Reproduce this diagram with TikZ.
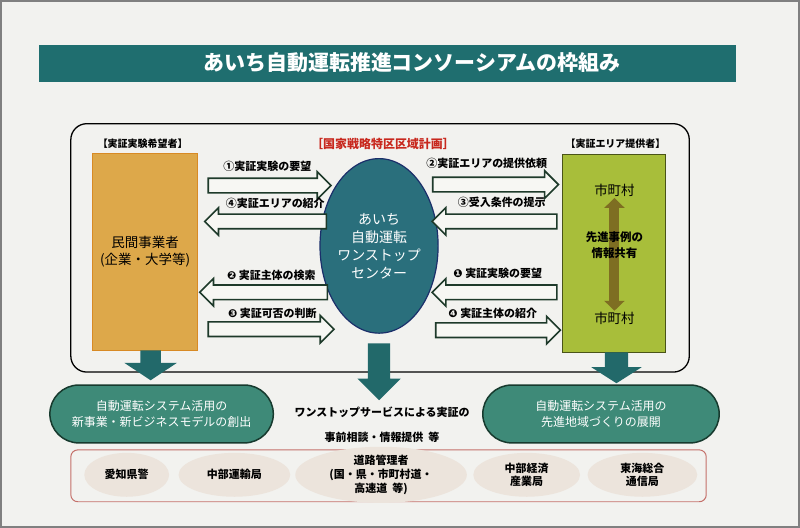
\documentclass[tikz,border=0pt]{standalone}
\usepackage{fontspec}
\setmainfont{Noto Sans CJK JP}
\newfontfamily\circfont{DejaVu Sans}
\usetikzlibrary{shapes.arrows,shapes.geometric,arrows.meta}

\definecolor{paper}{HTML}{F2F2EF}
\definecolor{bandteal}{HTML}{1F6E6F}
\definecolor{firmfill}{HTML}{DDA84A}
\definecolor{firmedge}{HTML}{D88A24}
\definecolor{cityfill}{HTML}{A8BE3A}
\definecolor{cityedge}{HTML}{4A5418}
\definecolor{hubfill}{HTML}{2A6F7C}
\definecolor{hubedge}{HTML}{1B2F6A}
\definecolor{arrowedge}{HTML}{1E3A2A}
\definecolor{arrowfill}{HTML}{F7F7F3}
\definecolor{dropteal}{HTML}{22696A}
\definecolor{goalfill}{HTML}{3E8A78}
\definecolor{goaledge}{HTML}{173A2E}
\definecolor{agencyedge}{HTML}{C4706A}
\definecolor{agencyfill}{HTML}{ECE4DC}
\definecolor{shareolive}{HTML}{7E6E22}
\definecolor{planred}{HTML}{C8281E}

\tikzset{
  fat/.style={single arrow, draw=arrowedge, fill=arrowfill, line width=1.6pt,
    inner sep=0pt, inner ysep=6.5pt, single arrow head extend=6.5pt,
    anchor=tail, minimum height=#1},
  fatleft/.style={fat=#1, shape border rotate=180},
  drop/.style={single arrow, fill=dropteal, inner sep=0pt, inner xsep=#1,
    shape border rotate=270, anchor=tail},
  tag/.style={font=\bfseries\fontsize{11}{13}\selectfont},
  heading/.style={font=\bfseries\fontsize{10}{12}\selectfont},
  goal/.style={draw=goaledge, fill=goalfill, line width=1.5pt, rounded corners=29pt,
    minimum height=58pt, text=white, align=center, font=\fontsize{12}{16}\selectfont},
  agency/.style={ellipse, fill=agencyfill, minimum height=44pt, inner sep=0pt,
    align=center, font=\bfseries\fontsize{11}{14}\selectfont}
}

\begin{document}
\begin{tikzpicture}[x=1pt,y=-1pt]
		% paper and scan border
		\fill[paper] (0,0) rectangle (800,527);
		\draw[gray, line width=2pt] (0,0) rectangle (800,527);

		% title band
		\node (banner) [fill=bandteal, minimum width=699pt, minimum height=37pt, inner sep=0pt] at (387.5,62.5) {};
		\node (bannertext) [text=white, font=\bfseries\fontsize{21}{24}\selectfont] at (412,62) {あいち自動運転推進コンソーシアムの枠組み};

		% big frame
		\draw[line width=1.3pt, rounded corners=16pt] (70,123) rectangle (690,372);

		% headings
		\node (seekers) [heading] at (142,143) {【実証実験希望者】};
		\node (plan) [planred, font=\bfseries\fontsize{12}{14}\selectfont] at (383,143) {［国家戦略特区区域計画］};
		\node (providers) [heading] at (616,143) {【実証エリア提供者】};

		% left box: companies
		\node (firms) [draw=firmedge, fill=firmfill, line width=1.2pt, minimum width=105pt, minimum height=197pt,
			align=center, font=\fontsize{13.5}{17}\selectfont] at (144.5,251.5) {民間事業者\\(企業・大学等)};

		% right box: municipalities
		\node (cities) [draw=cityedge, fill=cityfill, line width=1.2pt, minimum width=103pt, minimum height=198pt] at (614.5,253) {};
		\node (citytop) [font=\fontsize{13.5}{16}\selectfont, inner sep=1pt] at (615,190) {市町村};
		\node (citybot) [font=\fontsize{13.5}{16}\selectfont, inner sep=1pt] at (615,318) {市町村};
		\draw[shareolive, line width=10pt, {Triangle[width=20pt,length=10pt]}-{Triangle[width=20pt,length=10pt]}]
			(citytop.south) -- (citybot.north);
		\node (share) [align=center, font=\bfseries\fontsize{11.5}{16}\selectfont] at (615,245) {先進事例の\\情報共有};

		% one-stop centre
		\node (hub) [ellipse, draw=hubedge, fill=hubfill, line width=1.2pt, minimum width=98pt, minimum height=175pt,
			inner sep=0pt, text=white, align=center, font=\fontsize{14}{18}\selectfont] at (379,245.5)
			{あいち\\自動運転\\ワンストップ\\センター};

		% left arrows
		\node (askA) [fat=123pt] at (207,185) {};
		\node (introA) [fatleft=122pt] at (327,221) {};
		\node (searchA) [fatleft=128pt] at (328,292) {};
		\node (judgeA) [fat=126pt] at (207,329) {};
		\node (askAt) [tag] at (267,166) {①実証実験の要望};
		\node (introAt) [tag] at (275,203) {④実証エリアの紹介};
		\node (searchAt) [tag] at (271,275) {{\circfont ❷}\ 実証主体の検索};
		\node (judgeAt) [tag] at (272,313) {{\circfont ❸}\ 実証可否の判断};

		% right arrows
		\node (askB) [fat=126pt] at (432,184) {};
		\node (condB) [fatleft=125pt] at (558,221) {};
		\node (wishB) [fatleft=125pt] at (558,292) {};
		\node (introB) [fat=125pt] at (435,330) {};
		\node (askBt) [tag] at (487,163) {②実証エリアの提供依頼};
		\node (condBt) [tag] at (502,202) {③受入条件の提示};
		\node (wishBt) [tag] at (498,273) {{\circfont ❶}\ 実証実験の要望};
		\node (introBt) [tag] at (493,313) {{\circfont ❹}\ 実証主体の紹介};

		% down arrows
		\node (dropL) [drop=10pt, single arrow head extend=16pt, single arrow tip angle=113, minimum height=30pt] at (150,350) {};
		\node (dropM) [drop=11pt, single arrow head extend=10.5pt, single arrow tip angle=90, minimum height=57pt] at (379,343) {};
		\node (dropR) [drop=11.5pt, single arrow head extend=13.5pt, single arrow tip angle=115, minimum height=31pt] at (617,352) {};

		% outcomes
		\node (goalL) [goal, minimum width=224pt] at (161,414) {自動運転システム活用の\\新事業・新ビジネスモデルの創出};
		\node (goalR) [goal, minimum width=237pt] at (601.5,414) {自動運転システム活用の\\先進地域づくりの展開};
		\node (serviceA) [font=\bfseries\fontsize{11}{13}\selectfont] at (382,412) {ワンストップサービスによる実証の};
		\node (serviceB) [font=\bfseries\fontsize{11}{13}\selectfont] at (382,437) {事前相談・情報提供\ \ 等};

		% related agencies
		\node (agencies) [draw=agencyedge, line width=1pt, rounded corners=7pt, minimum width=637pt, minimum height=52pt] at (388.5,476) {};
		\node (police) [agency, minimum width=85pt] at (126,475) {愛知県警};
		\node (transport) [agency, minimum width=112pt] at (234,475) {中部運輸局};
		\node (roads) [agency, minimum width=172pt] at (381,475) {道路管理者\\(国・県・市町村道・\\高速道\ \ 等)};
		\node (economy) [agency, minimum width=107pt] at (527,475) {中部経済\\産業局};
		\node (telecom) [agency, minimum width=110pt] at (643,475) {東海総合\\通信局};
	\end{tikzpicture}
\end{document}
